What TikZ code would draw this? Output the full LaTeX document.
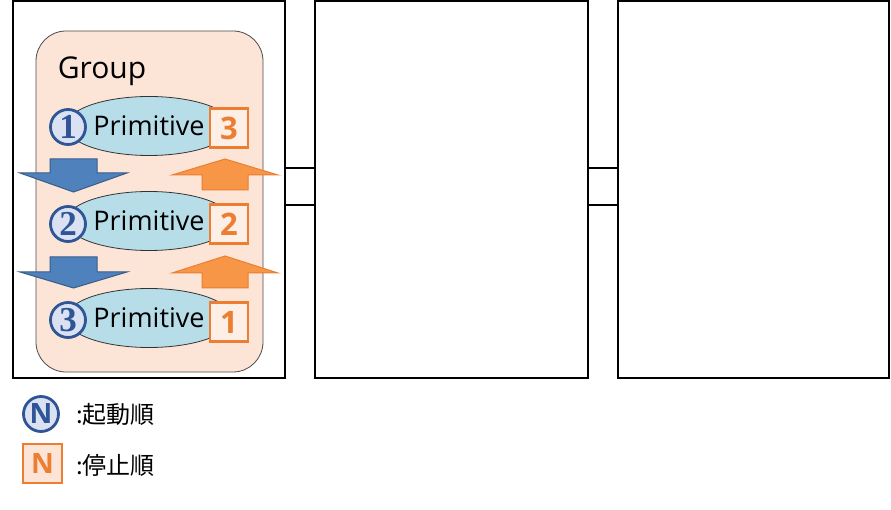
\documentclass[tikz,border=0pt]{standalone}
\usepackage{fontspec}
\setmainfont{Open Sans}
\newfontfamily\cjk{Noto Sans CJK JP}
\newfontfamily\numfont{Liberation Serif}
\usetikzlibrary{shapes.geometric}
\definecolor{peach}{HTML}{FCE4D6}
\definecolor{lblue}{HTML}{B7DEE8}
\definecolor{cfill}{HTML}{D9E1F2}
\definecolor{dblue}{HTML}{2F5597}
\definecolor{ablue}{HTML}{4F81BD}
\definecolor{ablued}{HTML}{385D8A}
\definecolor{aorange}{HTML}{F79646}
\definecolor{orangeb}{HTML}{ED7D31}
\tikzset{
  bigbox/.style={draw=black, line width=1.3pt, minimum height=377pt, inner sep=0pt},
  grp/.style={draw=black!70, fill=peach, line width=0.8pt, rounded corners=30pt, minimum width=227pt, minimum height=341pt, inner sep=0pt},
  prim/.style={ellipse, draw=black!80, fill=lblue, line width=0.8pt, minimum width=166pt, minimum height=59pt, inner sep=0pt, font=\fontsize{27}{27}\selectfont},
  startc/.style={circle, draw=dblue, fill=cfill, line width=2.8pt, minimum size=35pt, inner sep=0pt, text=dblue, font=\numfont\bfseries\fontsize{35}{35}\selectfont},
  stopsq/.style={draw=orangeb, fill=peach!60, line width=2.5pt, minimum width=38pt, minimum height=39pt, inner sep=0pt, text=orangeb, font=\bfseries\fontsize{31}{31}\selectfont},
  barrow/.style={draw=ablued, fill=ablue, line width=1pt, line join=miter},
  oarrow/.style={draw=orangeb, fill=aorange, line width=1pt, line join=miter},
  link/.style={draw=black, line width=1.3pt},
  legtext/.style={anchor=west, inner sep=0pt, font=\cjk\fontsize{24}{24}\selectfont}
}
\begin{document}
\begin{tikzpicture}[x=1pt, y=-1pt]
\useasboundingbox (0,0) rectangle (891,510);
% frames
\node[bigbox, minimum width=272pt] (b1) at (149,189.5) {};
\node[bigbox, minimum width=273pt] (b2) at (451.5,189.5) {};
\node[bigbox, minimum width=271pt] (b3) at (753.5,189.5) {};
\coordinate (ya) at (0,168);
\coordinate (yb) at (0,205);
\draw[link] (b1.east |- ya) -- (b2.west |- ya);
\draw[link] (b1.east |- yb) -- (b2.west |- yb);
\draw[link] (b2.east |- ya) -- (b3.west |- ya);
\draw[link] (b2.east |- yb) -- (b3.west |- yb);
% group
\node[grp] (g) at (149.5,201.5) {};
\node[anchor=center, inner sep=0pt, font=\fontsize{30}{30}\selectfont] (gt) at (102,71) {Group};
% primitives
\node[prim] (p1) at (149,126) {Primitive};
\node[prim] (p2) at (149,221) {Primitive};
\node[prim] (p3) at (149,318) {Primitive};
\node[startc] (c1) at (68,127) {1};
\node[startc] (c2) at (68,224) {2};
\node[startc] (c3) at (68,320) {3};
\node[stopsq] (s1) at (229,128) {3};
\node[stopsq] (s2) at (229,224) {2};
\node[stopsq] (s3) at (229,322) {1};
% arrows
\draw[barrow, shift={(0,159)}] (50,0) -- (97,0) -- (97,14) -- (127,14) -- (73.5,33) -- (20,14) -- (50,14) -- cycle;
\draw[barrow, shift={(0,257)}] (50,0) -- (97,0) -- (97,15) -- (127,15) -- (73.5,31) -- (20,15) -- (50,15) -- cycle;
\draw[oarrow, shift={(0,159)}] (225,0) -- (278,16) -- (248,16) -- (248,31) -- (202,31) -- (202,16) -- (172,16) -- cycle;
\draw[oarrow, shift={(0,256)}] (225,0) -- (278,17) -- (248,17) -- (248,32) -- (202,32) -- (202,17) -- (172,17) -- cycle;
% legend
\node[startc, font=\bfseries\fontsize{28}{28}\selectfont] (lc) at (41,414) {N};
\node[stopsq, minimum width=39pt, minimum height=39pt, fill=peach, font=\bfseries\fontsize{28}{28}\selectfont] (ls) at (42.5,463.5) {N};
\node[legtext] (lt1) at (76,414) {:起動順};
\node[legtext] (lt2) at (76,465) {:停止順};
\end{tikzpicture}
\end{document}
